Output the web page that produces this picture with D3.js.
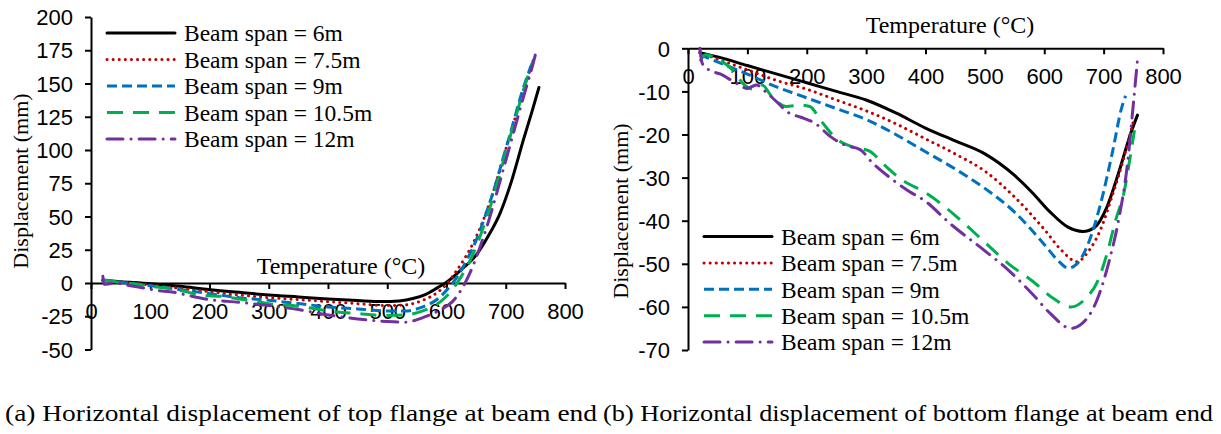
<!DOCTYPE html>
<html>
<head>
<meta charset="utf-8">
<script src="https://cdn.jsdelivr.net/npm/d3@7"></script>
<style>
  body { margin: 0; background: #fff; }
  svg { display: block; font-family: "Liberation Serif", "Times New Roman", serif; }
  .tick text { font-size: 22px; fill: #000; }
  .domain, .tick line { stroke: #000; stroke-width: 2; }
</style>
</head>
<body>
<svg id="chart" width="1221" height="434"></svg>
<script>
// series names and tick values
const spans = ['Beam span = 6m', 'Beam span = 7.5m', 'Beam span = 9m', 'Beam span = 10.5m', 'Beam span = 12m'];
const tempTicks = [0, 100, 200, 300, 400, 500, 600, 700, 800];
const topTicks = [-50, -25, 0, 25, 50, 75, 100, 125, 150, 175, 200];
const bottomTicks = [-70, -60, -50, -40, -30, -20, -10, 0];

// (a) top flange, [temperature, displacement]
const top6 = [[20,2],[50,1],[100,-0.5],[150,-2.5],[200,-5],[250,-7],[300,-9],[350,-10.5],[400,-12],[450,-13.2],[490,-14],[520,-13.5],[545,-11.5],[565,-8.5],[585,-3.5],[600,0.5],[625,10],[650,21],[670,35],[690,52],[710,77],[730,108],[745,130],[756,147]];
const top75 = [[20,2],[60,0.5],[100,-1.5],[150,-4],[200,-6.5],[250,-9],[300,-11],[350,-12.5],[400,-14],[450,-15.5],[500,-17],[530,-16.5],[560,-13],[585,-7],[600,-1],[615,8],[630,18],[645,30],[660,45],[675,63],[690,85],[705,108],[720,130],[735,152],[748,169]];
const top9 = [[20,2.5],[60,0],[100,-2],[150,-5],[200,-8],[250,-11],[300,-13],[350,-15.5],[400,-18],[450,-19.5],[500,-21],[530,-21],[560,-18],[585,-12],[605,-3],[620,6],[635,18],[650,32],[665,50],[680,70],[695,93],[710,116],[725,140],[740,160],[746,167]];
const top105 = [[20,2],[50,0.5],[80,-1],[100,-2.5],[130,-4],[160,-6.5],[190,-9.5],[220,-10],[250,-12],[280,-14],[300,-15.5],[350,-17.5],[400,-21],[450,-23],[500,-24.5],[530,-24],[560,-21],[590,-14],[610,-5],[625,5],[640,17],[655,33],[670,52],[685,74],[700,98],[715,122],[730,145],[747,168]];
const top12 = [[20,5],[22,-1],[40,0],[60,-1.5],[80,-3],[110,-5.5],[140,-7],[170,-10],[200,-12.5],[250,-14.5],[300,-17],[350,-20],[400,-24],[450,-27],[500,-29],[530,-29.5],[560,-26],[590,-20],[610,-14],[625,-5],[640,8],[655,25],[670,45],[685,68],[700,92],[715,116],[730,140],[745,163],[753,177]];

// (b) bottom flange, [temperature, displacement]
const bot6 = [[20,-1],[50,-2],[100,-4],[150,-6],[200,-8],[250,-10],[300,-12],[350,-15],[400,-18.5],[450,-21.5],[500,-24.5],[550,-29.5],[580,-33.5],[610,-38],[640,-41.5],[665,-42.5],[685,-41.5],[705,-37],[725,-29],[745,-20],[757,-15.5]];
const bot75 = [[20,-1],[100,-5],[150,-7.5],[200,-9.5],[250,-12],[300,-14.5],[350,-17.5],[400,-21],[450,-24.5],[500,-28.5],[550,-34.5],[600,-42],[630,-47],[655,-49.5],[675,-47],[695,-42],[715,-34],[735,-25],[750,-17]];
const bot9 = [[20,-1.5],[100,-6],[150,-9],[200,-11.5],[250,-14],[300,-16.5],[350,-20],[400,-24],[450,-28],[500,-32.5],[550,-38],[600,-45.5],[625,-49.5],[640,-51],[655,-50],[675,-45],[695,-36],[715,-24],[730,-14],[737,-11]];
const bot105 = [[20,-3],[30,-1.5],[50,-2.5],[75,-5],[95,-8.5],[110,-9.5],[125,-8.5],[140,-11],[165,-13.5],[190,-13.2],[205,-13.5],[225,-17],[250,-21],[280,-23],[305,-23.8],[330,-27],[360,-30.5],[400,-33.5],[430,-36.5],[460,-40],[500,-45],[540,-50],[580,-54],[615,-58],[645,-60],[670,-58],[690,-54],[705,-48],[720,-40],[735,-33],[745,-25],[752,-19]];
const bot12 = [[20,0],[24,-3.5],[35,-5],[55,-6],[80,-8],[100,-9.3],[115,-8.5],[130,-10],[150,-12.5],[170,-15],[190,-16],[215,-17.5],[240,-20.5],[265,-22.5],[290,-23.5],[310,-26.5],[340,-30],[370,-33],[400,-35.5],[440,-40.5],[500,-47],[540,-51.5],[580,-57],[610,-61.5],[645,-65],[670,-63],[690,-58],[710,-49],[725,-40],[740,-27],[750,-13],[757,-2.7]];

const colors = ['#000000', '#c00000', '#0070c0', '#00b050', '#7030a0'];
const dashes = [null, '0.1,6', '10,5', '16,10', '16,8,0.1,8'];
const caps = ['round', 'round', 'butt', 'butt', 'round'];

const svg = d3.select('#chart');

function panel(o) {
  const g = svg.append('g');
  const x = d3.scaleLinear().domain([0, 800]).range([o.x0, o.x1]);
  const y = d3.scaleLinear().domain(o.yDomain).range([o.y0, o.y1]);

  // x axis sits on the zero line
  g.append('g')
    .attr('transform', `translate(0,${y(0)})`)
    .call(d3.axisBottom(x).tickValues(tempTicks).tickSize(6).tickPadding(8).tickSizeOuter(0))
    .selectAll('text').attr('dy', '1.0em');

  g.append('g')
    .attr('transform', `translate(${o.x0},0)`)
    .call(d3.axisLeft(y).tickValues(o.yTicks).tickSize(6).tickPadding(12).tickSizeOuter(0)
      .tickFormat((d) => String(d)))
    .selectAll('text').attr('dy', '0.35em');

  g.append('text')
    .attr('x', o.xtX).attr('y', o.xtY).attr('dy', '0.35em')
    .attr('text-anchor', 'middle').style('font-size', '24px')
    .text('Temperature (°C)');

  g.append('text')
    .attr('transform', `translate(${o.ytX},${o.ytY}) rotate(-90)`)
    .attr('dy', '0.35em')
    .attr('text-anchor', 'middle').style('font-size', '22px')
    .text('Displacement (mm)');

  const line = d3.line()
    .x((d) => x(d[0]))
    .y((d) => y(d[1]))
    .curve(d3.curveMonotoneX);

  o.series.forEach((s, i) => {
    g.append('path')
      .datum(s)
      .attr('d', line)
      .attr('fill', 'none')
      .attr('stroke', colors[i])
      .attr('stroke-width', 3)
      .attr('stroke-linecap', caps[i])
      .attr('stroke-dasharray', dashes[i]);
  });

  // legend
  spans.forEach((name, i) => {
    const ly = o.legY + i * o.legStep;
    g.append('line')
      .attr('x1', o.legX).attr('x2', o.legX + 68)
      .attr('y1', ly).attr('y2', ly)
      .attr('stroke', colors[i])
      .attr('stroke-width', 3)
      .attr('stroke-linecap', caps[i])
      .attr('stroke-dasharray', dashes[i]);
    g.append('text')
      .attr('x', o.legX + 77).attr('y', ly).attr('dy', '0.35em')
      .style('font-size', '23.5px')
      .text(name);
  });
}

panel({
  x0: 91, x1: 565, y0: 349.5, y1: 17, yDomain: [-50, 200], yTicks: topTicks,
  xtX: 341, xtY: 266, ytX: 20, ytY: 181,
  series: [top6, top75, top9, top105, top12],
  legX: 107, legY: 33, legStep: 26.5
});

panel({
  x0: 688, x1: 1163, y0: 350, y1: 48.3, yDomain: [-70, 0], yTicks: bottomTicks,
  xtX: 950, xtY: 25, ytX: 620, ytY: 211,
  series: [bot6, bot75, bot9, bot105, bot12],
  legX: 704, legY: 236.5, legStep: 26.4
});

// captions
svg.append('text').attr('x', 5).attr('y', 413).attr('dy', '0.35em')
  .style('font-size', '24px')
  .attr('textLength', 592).attr('lengthAdjust', 'spacingAndGlyphs')
  .text('(a) Horizontal displacement of top flange at beam end');
svg.append('text').attr('x', 603).attr('y', 413).attr('dy', '0.35em')
  .style('font-size', '24px')
  .attr('textLength', 610).attr('lengthAdjust', 'spacingAndGlyphs')
  .text('(b) Horizontal displacement of bottom flange at beam end');
</script>
</body>
</html>
